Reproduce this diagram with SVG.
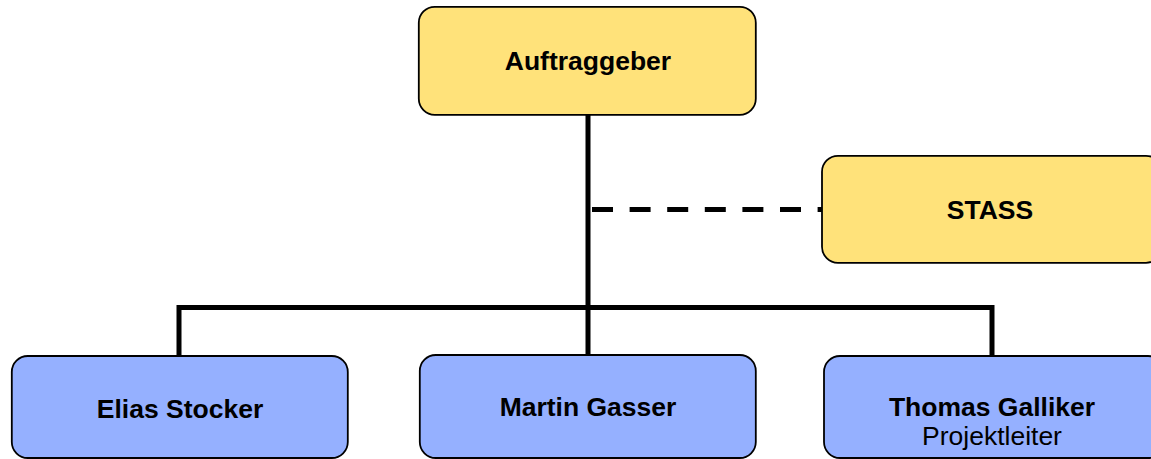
<svg xmlns="http://www.w3.org/2000/svg" width="1151" height="459" viewBox="0 0 1151 459">
<style>
.box{stroke:#000;stroke-width:1.8}
.y{fill:#FFE27A}
.b{fill:#95B0FF}
.t{font-family:"Liberation Sans",Arial,sans-serif;font-size:26.5px;font-weight:bold;fill:#000;text-anchor:middle}
.r{font-weight:normal}
.c{fill:none;stroke:#000;stroke-width:5}
.d{stroke-dasharray:21 16.6}
</style>
<rect width="1151" height="459" fill="#fff"/>
<g id="connectors">
<path class="c" d="M588 115 V355"/>
<path class="c" d="M179 356 V307.5 H992 V356"/>
<path class="c d" d="M592 209.5 H822"/>
</g>
<g id="auftraggeber">
<rect class="box y" x="418.8" y="6.8" width="337" height="108" rx="16"/>
<text class="t" x="588" y="70">Auftraggeber</text>
</g>
<g id="stass">
<rect class="box y" x="822" y="155.8" width="340" height="107" rx="16"/>
<text class="t" x="990" y="219">STASS</text>
</g>
<g id="elias">
<rect class="box b" x="11.8" y="356" width="336" height="102" rx="16"/>
<text class="t" x="180" y="418">Elias Stocker</text>
</g>
<g id="martin">
<rect class="box b" x="419.8" y="355" width="336" height="103" rx="16"/>
<text class="t" x="588" y="416">Martin Gasser</text>
</g>
<g id="thomas">
<rect class="box b" x="824" y="356" width="340" height="102" rx="16"/>
<text class="t" x="992" y="416">Thomas Galliker</text>
<text class="t r" x="992" y="445">Projektleiter</text>
</g>
</svg>
